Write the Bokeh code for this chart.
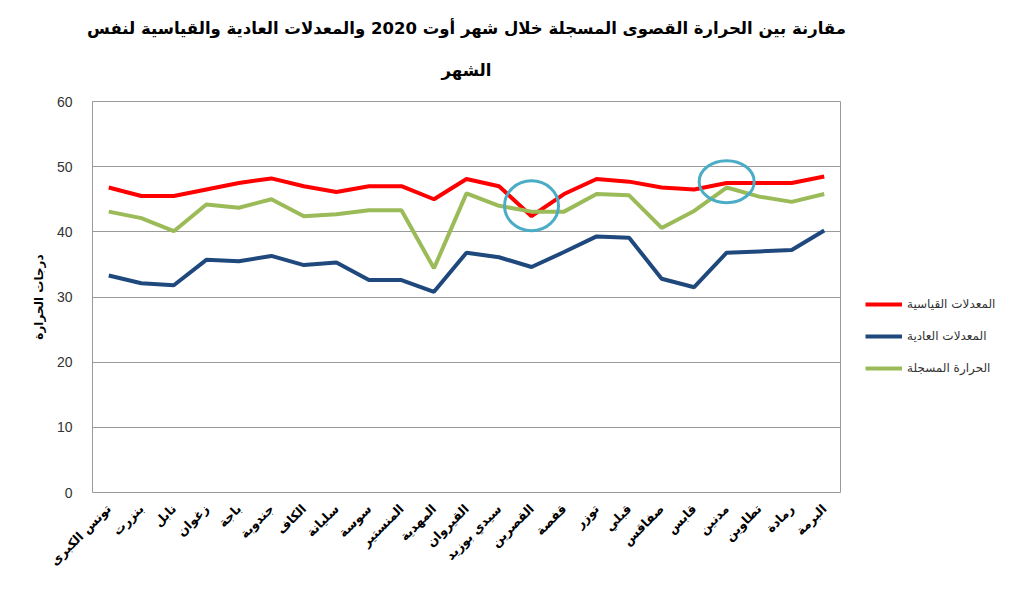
import math
from bokeh.plotting import figure
from bokeh.models import FactorRange, Range1d, Legend, LegendItem, SingleIntervalTicker, Title
from bokeh.embed import file_html
from bokeh.resources import INLINE

categories = ["تونس الكبرى", "بنزرت", "نابل", "زغوان", "باجة", "جندوبة", "الكاف",
              "سليانة", "سوسة", "المنستير", "المهدية", "القيروان", "سيدي بوزيد",
              "القصرين", "قفصة", "توزر", "قبلي", "صفاقس", "قابس", "مدنين",
              "تطاوين", "رمادة", "البرمة"]

record_normals = [46.8, 45.5, 45.5, 46.5, 47.5, 48.2, 47.0, 46.1, 47.0, 47.0, 45.0, 48.1,
                  47.0, 42.4, 45.8, 48.1, 47.7, 46.8, 46.5, 47.5, 47.5, 47.5, 48.5]
usual_normals = [33.3, 32.1, 31.8, 35.7, 35.5, 36.3, 34.9, 35.3, 32.6, 32.6, 30.8, 36.8,
                 36.1, 34.6, 36.9, 39.3, 39.1, 32.8, 31.5, 36.8, 37.0, 37.2, 40.2]
recorded = [43.1, 42.1, 40.1, 44.2, 43.7, 45.0, 42.4, 42.7, 43.3, 43.3, 34.4, 45.9,
            44.0, 43.1, 43.1, 45.8, 45.6, 40.6, 43.2, 46.8, 45.4, 44.6, 45.8]

series_names = ["المعدلات القياسية", "المعدلات العادية", "الحرارة المسجلة"]

highlight_idx = [13, 19]
highlight_y = [44.0, 47.7]

title_line1 = "مقارنة بين الحرارة القصوى المسجلة خلال شهر أوت 2020 والمعدلات العادية والقياسية لنفس"
title_line2 = "الشهر"
y_label = "درجات الحرارة"

AR_FONT = "DejaVu Sans"

p = figure(frame_width=748, frame_height=391, x_range=FactorRange(*categories, range_padding=0),
           y_range=Range1d(0, 60), output_backend="svg", toolbar_location=None,
           min_border_left=92, min_border_right=160, min_border_bottom=93, min_border_top=101)

for txt, so, lh in [(title_line2, 43, 1.2), (title_line1, 0, 0.75)]:
    t = Title(text=txt, align="center", text_font=AR_FONT, text_font_size="16.5px",
              text_font_style="bold", text_color="#000000", standoff=so,
              text_line_height=lh)
    p.add_layout(t, "above")

p.outline_line_color = "#9a9a9a"
p.outline_line_width = 1
p.xgrid.grid_line_color = None
p.ygrid.grid_line_color = "#9a9a9a"
p.ygrid.grid_line_width = 1

p.yaxis.ticker = SingleIntervalTicker(interval=10)
p.yaxis.axis_line_color = None
p.yaxis.major_tick_line_color = None
p.yaxis.minor_tick_line_color = None
p.yaxis.major_label_text_font = "Liberation Sans"
p.yaxis.major_label_text_font_size = "14px"
p.yaxis.major_label_text_color = "#333333"
p.yaxis.major_label_standoff = 14
p.yaxis.axis_label = y_label
p.yaxis.axis_label_text_font = AR_FONT
p.yaxis.axis_label_text_font_size = "12px"
p.yaxis.axis_label_text_font_style = "bold"
p.yaxis.axis_label_text_color = "#000000"
p.yaxis.axis_label_standoff = 8

p.xaxis.axis_line_color = None
p.xaxis.major_tick_line_color = None
p.xaxis.minor_tick_line_color = None
p.xaxis.major_label_orientation = math.pi / 4
p.xaxis.major_label_text_font = AR_FONT
p.xaxis.major_label_text_font_size = "12.5px"
p.xaxis.major_label_text_font_style = "bold"
p.xaxis.major_label_text_color = "#000000"
p.xaxis.major_label_standoff = 8

colors = ["#ff0000", "#1f497d", "#9bbb59"]
r1 = p.line(categories, record_normals, line_color=colors[0], line_width=4)
r2 = p.line(categories, usual_normals, line_color=colors[1], line_width=4)
r3 = p.line(categories, recorded, line_color=colors[2], line_width=4)

p.ellipse(x=[categories[i] for i in highlight_idx], y=highlight_y,
          width=[54, 55], height=[50, 42], width_units="screen", height_units="screen",
          fill_color=None, line_color="#4bacc6", line_width=3)

legend = Legend(items=[LegendItem(label=series_names[0], renderers=[r1]),
                       LegendItem(label=series_names[1], renderers=[r2]),
                       LegendItem(label=series_names[2], renderers=[r3])],
                location=(25, 117), orientation="vertical",
                border_line_color=None, background_fill_alpha=0,
                glyph_width=37, glyph_height=14, label_height=14, spacing=18,
                label_text_font=AR_FONT, label_text_font_size="12px",
                label_text_color="#333333", padding=4, margin=0)
p.add_layout(legend, "right")

open("out.html", "w").write(file_html(p, INLINE))
